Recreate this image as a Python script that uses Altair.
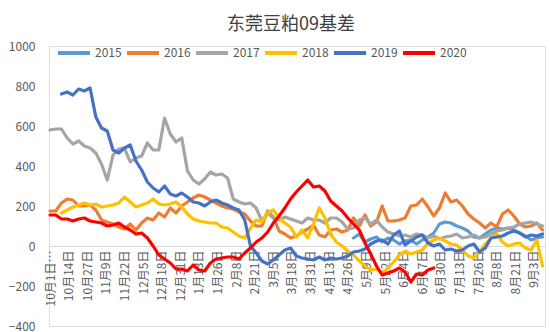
import json
import altair as alt
import pandas as pd

# ---- data ----
STEP = 4  # days between samples; day 0 = 10月1日

years = ["2015", "2016", "2017", "2018", "2019", "2020"]
colors = ["#5B9BD5", "#ED7D31", "#A5A5A5", "#FFC000", "#4472C4", "#FF0000"]

start_2015 = 53
v2015 = [40, 60, 20, 35, 45, 20, 40, 30, 10, 25, 30, 10, 30, 45, 65, 110, 120, 115,
         100, 90, 75, 45, 40, 60, 80, 90, 85, 90, 80, 65, 50, 30, 40, 45]

start_2016 = 0
v2016 = [175, 175, 215, 235, 230, 200, 200, 205, 180, 130, 120, 110, 95, 85, 110, 80,
         115, 140, 130, 165, 145, 190, 165, 200, 220, 240, 255, 245, 230, 215, 200, 190,
         185, 170, 160, 125, 100, 100, 175, 145, 75, 60, 40, 50, 70, 85, 105, 55, 45, 80,
         85, 70, 80, 140, 100, 155, 100, 120, 200, 125, 125, 130, 140, 200, 205, 235, 195,
         150, 190, 265, 220, 230, 200, 160, 135, 115, 90, 115, 95, 160, 180, 150, 110, 95,
         100, 115, 80]

start_2017 = 0
v2017 = [580, 585, 585, 540, 510, 525, 500, 490, 465, 410, 330, 455, 485, 490, 420, 440,
         450, 515, 480, 480, 640, 560, 520, 540, 375, 330, 310, 335, 370, 355, 360, 340,
         235, 220, 210, 215, 190, 125, 165, 140, 130, 145, 135, 125, 115, 140, 130, 130,
         115, 140, 140, 120, 85, 90, 130, 140, 110, 130, 95, 70, 60, 50, 55, 45, 60, 55,
         40, 50, 35, 45, 50, 60, 40, 45, 55, 40, 45, 60, 75, 80, 90, 95, 110, 115, 120,
         110, 100]

start_2018 = 2
v2018 = [165, 180, 195, 205, 215, 205, 210, 195, 200, 205, 215, 245, 220, 195, 205, 215,
         235, 210, 205, 210, 220, 195, 160, 135, 125, 120, 115, 115, 95, 90, 70, 50, 40,
         90, 130, 120, 165, 180, 140, 115, 95, 45, 80, 40, 110, 190, 140, 60, 20, 0, -25,
         -45, -75, -100, -120, -115, -135, -110, -80, -45, -25, -40, -30, -20, 15, 30, 40,
         25, 10, 5, -20, -50, -60, -30, 10, 40, 60, 20, 0, 10, 15, -10, -20, 30, -100]

start_2019 = 2
v2019 = [760, 770, 755, 785, 775, 790, 645, 590, 575, 480, 465, 490, 505, 425, 380, 320,
         290, 270, 300, 260, 250, 265, 245, 220, 215, 200, 220, 230, 215, 205, 190, 180,
         130, 0, -35, -75, -90, -70, -45, -20, -10, -50, -60, -65, -70, -55, -70, -60, -65,
         -60, -50, -30, -25, -15, 10, 25, 30, 10, 55, 75, 5, 25, 45, 55, 15, 0, 10, -20,
         -15, -25, -20, 0, 10, -30, -10, 40, 45, 50, 65, 75, 65, 45, 55, 50, 60]

start_2020 = 0
v2020 = [155, 155, 135, 135, 125, 135, 140, 125, 120, 115, 100, 105, 115, 95, 80, 60, 65,
         40, 0, -45, -65, -85, -115, -115, -125, -95, -120, -125, -85, -65, -60, -55, -55,
         -65, -35, -10, 20, 40, 70, 115, 150, 190, 235, 270, 300, 330, 295, 300, 275, 225,
         200, 175, 140, 110, 80, 15, -40, -100, -145, -135, -125, -110, -130, -180, -140,
         -145, -120, -110]

series = {
    "2015": (start_2015, v2015),
    "2016": (start_2016, v2016),
    "2017": (start_2017, v2017),
    "2018": (start_2018, v2018),
    "2019": (start_2019, v2019),
    "2020": (start_2020, v2020),
}

tick_days = [13 * k for k in range(27)]
tick_labels = ["10月1日…", "10月14日", "10月27日", "11月9日", "11月22日", "12月5日",
               "12月18日", "12月31日", "1月13日", "1月26日", "2月8日", "2月21日",
               "3月5日", "3月18日", "3月31日", "4月13日", "4月26日", "5月9日",
               "5月22日", "6月4日", "6月17日", "6月30日", "7月13日", "7月26日",
               "8月8日", "8月21日", "9月3日"]
y_ticks = [-400, -200, 0, 200, 400, 600, 800, 1000]

rows = []
for yr in years:
    start, vals = series[yr]
    for i, v in enumerate(vals):
        rows.append({"year": yr, "day": (start + i) * STEP, "value": v})
df = pd.DataFrame(rows)

label_expr = json.dumps(tick_labels, ensure_ascii=False) + "[round(datum.value / 13)]"

FONT = "Noto Sans CJK SC"
GREY = "#595959"

chart = alt.Chart(df).mark_line(strokeWidth=3.2, strokeJoin="round", strokeCap="round").encode(
    x=alt.X("day:Q",
            scale=alt.Scale(domain=[-0.7, 345.7], nice=False, zero=False),
            axis=alt.Axis(values=tick_days, labelExpr=label_expr, labelAngle=-90,
                          offset=-80, ticks=False, domainColor="#D9D9D9", domainWidth=1,
                          labelPadding=4, labelFontSize=12, labelColor=GREY,
                          labelFont=FONT, title=None, grid=False, labelOverlap=False,
                          labelFlush=False)),
    y=alt.Y("value:Q",
            scale=alt.Scale(domain=[-400, 1000], nice=False),
            axis=alt.Axis(values=y_ticks, format="d", grid=False, domain=False, ticks=False,
                          labelPadding=14, labelFontSize=12, labelColor=GREY,
                          labelFont=FONT, title=None)),
    color=alt.Color("year:N",
                    scale=alt.Scale(domain=years, range=colors),
                    legend=alt.Legend(orient="none", legendX=7, legendY=-11,
                                      direction="horizontal", title=None,
                                      symbolType="stroke", symbolSize=1024,
                                      symbolStrokeWidth=4, labelFontSize=12,
                                      labelColor=GREY, labelFont=FONT,
                                      columnPadding=-3, labelOffset=3)),
    order="day:Q",
).properties(
    width=496,
    height=280,
    title=alt.TitleParams("东莞豆粕09基差", font=FONT, fontSize=18, fontWeight="normal",
                          color="#404040", anchor="middle", frame="group", dx=-6, offset=1),
    autosize=alt.AutoSizeParams(type="none"),
    padding={"left": 49, "top": 46, "right": 5, "bottom": 6},
).configure_view(stroke=None).configure(font=FONT)

chart.save("out.html", embed_options={"renderer": "svg", "actions": False})
